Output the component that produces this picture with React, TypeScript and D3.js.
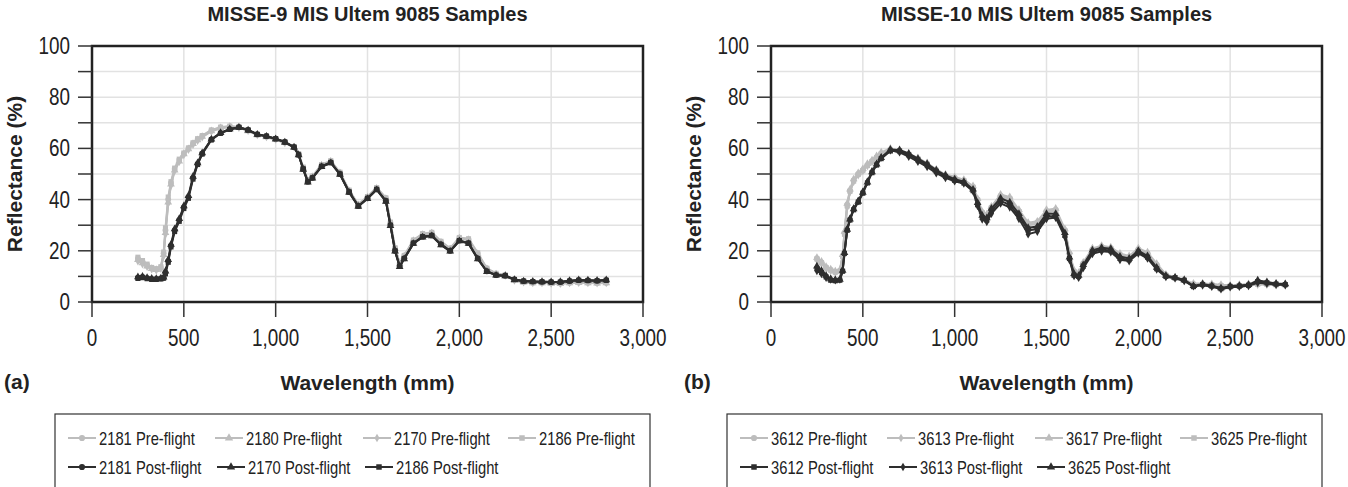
import React, { useRef, useEffect } from "react";
import * as d3 from "d3";

// wavelength grid (nm) shared by every series
const wavelengths = [
  250, 275, 300, 325, 350, 375, 390, 400, 415, 430,
  450, 475, 500, 525, 550, 575, 600, 650, 700, 750,
  800, 850, 900, 950, 1000, 1050, 1100, 1125, 1150, 1175,
  1200, 1250, 1300, 1350, 1400, 1450, 1500, 1550, 1600, 1625,
  1650, 1675, 1700, 1750, 1800, 1850, 1900, 1950, 2000, 2050,
  2100, 2150, 2200, 2250, 2300, 2350, 2400, 2450, 2500, 2550,
  2600, 2650, 2700, 2750, 2800,
];

// MISSE-9 samples
const m9Pre2181 = [
  17, 15.8, 14.5, 13.2, 12.8, 13.5, 19, 28, 40, 46.5,
  52, 55.5, 58, 60, 62, 63.5, 64.8, 67, 68.2, 68.6,
  68.3, 67, 65.3, 64.6, 63.6, 62.3, 60.6, 57.8, 52.5, 47.5,
  49, 53.5, 55, 50.5, 43.5, 38, 41, 44.5, 40.5, 31,
  21, 15, 18, 24, 26.5, 27, 23.5, 20.8, 25, 24.5,
  19, 13, 11, 10.5, 8.5, 7.8, 7.5, 7.5, 7.3, 7.2,
  7.5, 7.6, 7.5, 7.4, 7.5,
];
const m9Pre2180 = [
  16.5, 15.2, 14, 13, 12.6, 13.2, 18.5, 27, 39, 46,
  51.5, 55, 57.8, 59.8, 61.8, 63.3, 64.6, 66.8, 68, 68.5,
  68.2, 66.8, 65.2, 64.4, 63.4, 62.2, 60.4, 57.5, 52.2, 47.3,
  48.8, 53.3, 54.8, 50.3, 43.2, 37.8, 40.8, 44.2, 40.2, 30.8,
  20.8, 14.8, 17.8, 23.8, 26.2, 26.8, 23.2, 20.6, 24.8, 24.2,
  18.7, 12.8, 10.8, 10.3, 8.3, 7.7, 7.4, 7.4, 7.2, 7.1,
  7.4, 7.5, 7.4, 7.3, 7.4,
];
const m9Pre2170 = [
  16, 14.8, 13.8, 12.8, 12.4, 13, 18, 26.5, 38.5, 45.5,
  51.2, 54.8, 57.5, 59.5, 61.5, 63, 64.4, 66.6, 67.9, 68.4,
  68.1, 66.9, 65.3, 64.5, 63.5, 62.2, 60.5, 57.6, 52.3, 47.4,
  48.9, 53.4, 54.9, 50.4, 43.3, 37.9, 40.9, 44.3, 40.3, 30.9,
  20.9, 14.9, 17.9, 23.9, 26.3, 26.9, 23.3, 20.7, 24.9, 24.3,
  18.8, 12.9, 10.9, 10.4, 8.4, 7.8, 7.5, 7.5, 7.3, 7.2,
  7.5, 7.6, 7.5, 7.4, 7.5,
];
const m9Pre2186 = [
  17.5, 16.2, 14.8, 13.5, 13, 13.8, 19.5, 29, 41, 47,
  52.3, 55.8, 58.2, 60.2, 62.2, 63.8, 65, 67.2, 68.3, 68.7,
  68.4, 67.1, 65.4, 64.7, 63.7, 62.4, 60.7, 58, 52.7, 47.7,
  49.2, 53.7, 55.2, 50.7, 43.7, 38.2, 41.2, 44.7, 40.7, 31.2,
  21.2, 15.2, 18.2, 24.2, 26.7, 27.2, 23.7, 21, 25.2, 24.7,
  19.2, 13.2, 11.2, 10.6, 8.6, 7.9, 7.6, 7.6, 7.4, 7.3,
  7.6, 7.7, 7.6, 7.5, 7.6,
];
const m9Post2181 = [
  9.5, 9.8, 9.3, 9, 9, 9.2, 9.5, 11.5, 16, 22,
  28, 32, 37, 41, 48.5, 54, 58, 63.5, 66, 67.5,
  68.3, 67.2, 65.5, 64.8, 63.8, 62.5, 60.5, 57.5, 52, 47,
  48.5, 53, 54.5, 50, 43, 37.5, 40.5, 44, 39.5, 30,
  20, 14, 17, 23, 25.5, 26, 22.5, 20, 24, 23,
  17, 12, 10.5, 10.3, 8.8, 8.2, 8, 7.9, 7.8, 7.8,
  8.2, 8.5, 8.4, 8.3, 8.5,
];
const m9Post2170 = [
  9.8, 10, 9.5, 9.2, 9.1, 9.3, 9.7, 12, 16.5, 22.5,
  28.5, 32.5, 37.5, 41.5, 49, 54.3, 58.2, 63.6, 66.1, 67.6,
  68.2, 67.1, 65.4, 64.7, 63.7, 62.4, 60.4, 57.4, 51.8, 46.8,
  48.3, 52.8, 54.3, 49.8, 42.8, 37.3, 40.3, 43.8, 39.3, 29.8,
  19.8, 13.8, 16.8, 22.8, 25.3, 25.8, 22.3, 19.8, 23.8, 22.8,
  16.8, 11.8, 10.4, 10.2, 8.7, 8.1, 8, 7.9, 7.8, 7.9,
  8.3, 8.6, 8.5, 8.4, 8.6,
];
const m9Post2186 = [
  9.2, 9.5, 9.1, 8.8, 8.8, 9, 9.3, 11, 15.5, 21.5,
  27.5, 31.5, 36.5, 40.5, 48, 53.7, 57.8, 63.3, 65.9, 67.4,
  68.2, 67.2, 65.5, 64.8, 63.8, 62.5, 60.5, 57.5, 52, 47,
  48.5, 53, 54.5, 50, 43, 37.5, 40.5, 44, 39.5, 30,
  20, 14, 17, 23, 25.5, 26, 22.5, 20, 24, 23,
  17, 12, 10.5, 10.3, 8.8, 8.2, 8, 7.9, 7.8, 7.8,
  8.2, 8.5, 8.4, 8.3, 8.5,
];

// MISSE-10 samples
const m10Pre3612 = [
  17, 15.5, 13.5, 12.5, 11.8, 12.2, 18, 27, 38, 43.5,
  47.5, 50, 51.5, 53.5, 55, 56.5, 58, 59.5, 58.8, 57.5,
  56, 54, 51.5, 49.5, 48.5, 47.5, 45, 40, 35, 34,
  37, 41.5, 40.5, 35.5, 30.5, 31, 35.5, 36, 28, 19,
  12, 11, 15, 20.5, 21.5, 21, 18.5, 17.5, 20.5, 19,
  14.5, 10.5, 9.5, 8.5, 7, 7, 6.8, 6.5, 6.3, 6.5,
  6.8, 7, 7, 6.8, 6.8,
];
const m10Pre3613 = [
  16.5, 15, 13.2, 12.2, 11.5, 12, 17.5, 26, 37, 43,
  47, 49.6, 51.2, 53.2, 54.7, 56.3, 57.8, 59.3, 58.6, 57.2,
  55.7, 53.7, 51.2, 49.2, 48.2, 47.2, 44.6, 39.6, 34.6, 33.6,
  36.6, 41, 40, 35, 30, 30.5, 35, 35.5, 27.5, 18.5,
  11.6, 10.6, 14.6, 20, 21, 20.6, 18, 17.2, 20, 18.6,
  14, 10.2, 9.3, 8.3, 6.8, 6.8, 6.6, 6.3, 6.1, 6.3,
  6.6, 6.8, 6.8, 6.6, 6.6,
];
const m10Pre3617 = [
  17.3, 15.8, 13.8, 12.8, 12, 12.5, 18.5, 27.5, 38.5, 44,
  48, 50.4, 52, 54, 55.4, 57, 58.5, 60, 59, 57.8,
  56.3, 54.3, 51.8, 49.8, 48.8, 47.8, 45.3, 40.3, 35.3, 34.3,
  37.3, 42, 41, 36, 31, 31.5, 36, 36.5, 28.5, 19.5,
  12.4, 11.4, 15.4, 21, 22, 21.4, 19, 18, 21, 19.4,
  15, 10.8, 9.7, 8.7, 7.2, 7.2, 7, 6.7, 6.5, 6.7,
  7, 7.2, 7.2, 7, 7,
];
const m10Pre3625 = [
  16.8, 15.3, 13.4, 12.4, 11.6, 12.1, 17.8, 26.5, 37.5, 43.2,
  47.2, 49.8, 51.3, 53.3, 54.8, 56.4, 57.9, 59.4, 58.7, 57.4,
  55.9, 53.9, 51.4, 49.4, 48.4, 47.4, 44.8, 39.8, 34.8, 33.8,
  36.8, 41.3, 40.3, 35.3, 30.3, 30.8, 35.3, 35.8, 27.8, 18.8,
  11.8, 10.8, 14.8, 20.3, 21.3, 20.8, 18.3, 17.3, 20.3, 18.8,
  14.3, 10.4, 9.4, 8.4, 6.9, 6.9, 6.7, 6.4, 6.2, 6.4,
  6.7, 6.9, 6.9, 6.7, 6.7,
];
const m10Post3612 = [
  13, 11.5, 9.8, 8.5, 8.3, 8.5, 12, 19, 28, 32,
  36, 39, 42.5, 46.5, 50.5, 53.5, 56, 59, 59, 57.5,
  55.5, 53.5, 51, 49, 47.5, 46.5, 43.5, 38, 33, 32,
  35.5, 39.5, 38, 33.5, 28, 28.5, 33.5, 33.5, 26, 17,
  10.5, 10, 14, 19.5, 20.5, 20, 17, 16.5, 19.5, 17.5,
  13, 10, 9.5, 8.5, 6, 6.8, 6.2, 5.2, 6, 6.2,
  6.5, 8, 7.5, 7, 6.8,
];
const m10Post3613 = [
  12.2, 11, 9.5, 8.8, 8.5, 8.8, 12.5, 19.5, 28.5, 32.5,
  36.5, 39.5, 43, 47, 51, 54, 56.5, 59.3, 58.5, 56.8,
  54.8, 52.8, 50.3, 48.5, 47.2, 46.3, 43.3, 37.5, 32.3, 31.3,
  34.5, 38.5, 37, 32.5, 26.5, 27.5, 32.5, 33, 25.5, 16.5,
  10.2, 9.5, 13.3, 18.8, 19.8, 19.5, 16.5, 16, 19, 17,
  12.7, 9.8, 9.3, 8.2, 6.2, 6.5, 6, 5, 5.8, 6,
  6.3, 7.5, 7.2, 6.8, 6.6,
];
const m10Post3625 = [
  14, 12.2, 10.3, 9, 8.6, 8.8, 12.3, 19.2, 28.3, 32.3,
  36.3, 39.3, 42.8, 46.8, 50.8, 53.8, 56.3, 59.6, 59.4, 58,
  56, 54, 51.5, 49.5, 48, 47, 44, 38.8, 33.8, 32.8,
  36.5, 40.5, 39, 34.5, 29, 29.5, 34.5, 34.5, 27, 17.5,
  11, 10.3, 14.5, 20.2, 21.2, 20.8, 17.8, 17, 20, 18,
  13.5, 10.3, 9.6, 8.6, 6.3, 7, 6.4, 5.5, 6.2, 6.4,
  6.7, 8.5, 7.8, 7.2, 7,
];

const xTicks = [0, 500, 1000, 1500, 2000, 2500, 3000];
const yTicks = [0, 20, 40, 60, 80, 100];
const yMinor = [10, 30, 50, 70, 90];

const PRE = "#bdbdbd";
const POST = "#2e2e2e";
const FONT = "'Liberation Sans', Arial, sans-serif";
const NARROW = 0.82; // horizontal squeeze to mimic Arial Narrow

const shapes = {
  circle: d3.symbolCircle,
  triangle: d3.symbolTriangle,
  diamond: d3.symbolDiamond,
  square: d3.symbolSquare,
};

const panels = [
  {
    title: "MISSE-9 MIS Ultem 9085 Samples",
    tag: "(a)",
    left: 92,
    tagX: 4,
    legendLeft: 55,
    series: [
      { label: "2181 Pre-flight", values: m9Pre2181, color: PRE, shape: "circle" },
      { label: "2180 Pre-flight", values: m9Pre2180, color: PRE, shape: "triangle" },
      { label: "2170 Pre-flight", values: m9Pre2170, color: PRE, shape: "diamond" },
      { label: "2186 Pre-flight", values: m9Pre2186, color: PRE, shape: "square" },
      { label: "2181 Post-flight", values: m9Post2181, color: POST, shape: "circle" },
      { label: "2170 Post-flight", values: m9Post2170, color: POST, shape: "triangle" },
      { label: "2186 Post-flight", values: m9Post2186, color: POST, shape: "square" },
    ],
  },
  {
    title: "MISSE-10 MIS Ultem 9085 Samples",
    tag: "(b)",
    left: 771,
    tagX: 684,
    legendLeft: 727,
    series: [
      { label: "3612 Pre-flight", values: m10Pre3612, color: PRE, shape: "circle" },
      { label: "3613 Pre-flight", values: m10Pre3613, color: PRE, shape: "diamond" },
      { label: "3617 Pre-flight", values: m10Pre3617, color: PRE, shape: "triangle" },
      { label: "3625 Pre-flight", values: m10Pre3625, color: PRE, shape: "square" },
      { label: "3612 Post-flight", values: m10Post3612, color: POST, shape: "square" },
      { label: "3613 Post-flight", values: m10Post3613, color: POST, shape: "diamond" },
      { label: "3625 Post-flight", values: m10Post3625, color: POST, shape: "triangle" },
    ],
  },
];

const PLOT_W = 551;
const TOP = 46;
const BOTTOM = 302;
const LEGEND_W = 595;
const legendCols = [[13, 160, 308, 453], [13, 162, 310]];

// squeezed text placed via transform
const narrowText = (sel, x, y, size, anchor, txt) =>
  sel
    .append("text")
    .attr("transform", `translate(${x},${y}) scale(${NARROW},1)`)
    .attr("text-anchor", anchor)
    .attr("font-size", size)
    .attr("fill", "#222")
    .text(txt);

const Panel = ({ panel }) => {
  const gRef = useRef();

  useEffect(() => {
    const g = d3.select(gRef.current);
    g.selectAll("*").remove();

    const x = d3.scaleLinear().domain([0, 3000]).range([panel.left, panel.left + PLOT_W]);
    const y = d3.scaleLinear().domain([0, 100]).range([BOTTOM, TOP]);
    const midX = panel.left + PLOT_W / 2;

    // gridlines
    g.append("g")
      .selectAll("line")
      .data(d3.range(10, 100, 10))
      .join("line")
      .attr("x1", x(0))
      .attr("x2", x(3000))
      .attr("y1", (d) => y(d))
      .attr("y2", (d) => y(d))
      .attr("stroke", "#e2e2e2")
      .attr("stroke-width", 1.5);
    g.append("g")
      .selectAll("line")
      .data(xTicks.slice(1, -1))
      .join("line")
      .attr("x1", (d) => x(d))
      .attr("x2", (d) => x(d))
      .attr("y1", y(0))
      .attr("y2", y(100))
      .attr("stroke", "#e2e2e2")
      .attr("stroke-width", 1.5);

    // series
    const line = d3
      .line()
      .x((d) => x(d[0]))
      .y((d) => y(d[1]));

    panel.series.forEach((s) => {
      const pts = wavelengths.map((w, i) => [w, s.values[i]]);
      const sg = g.append("g");
      sg.append("path")
        .datum(pts)
        .attr("fill", "none")
        .attr("stroke", s.color)
        .attr("stroke-width", 2)
        .attr("d", line);
      const sym = d3.symbol().type(shapes[s.shape]).size(s.shape === "diamond" ? 22 : 26);
      sg.selectAll("path.m")
        .data(pts)
        .join("path")
        .attr("class", "m")
        .attr("transform", (d) => `translate(${x(d[0])},${y(d[1])})`)
        .attr("d", sym())
        .attr("fill", s.color);
    });

    // frame
    g.append("rect")
      .attr("x", x(0))
      .attr("y", y(100))
      .attr("width", PLOT_W)
      .attr("height", BOTTOM - TOP)
      .attr("fill", "none")
      .attr("stroke", "#222")
      .attr("stroke-width", 2.5);

    // y ticks
    g.append("g")
      .selectAll("line")
      .data([...yTicks, ...yMinor])
      .join("line")
      .attr("x1", x(0) - 14)
      .attr("x2", x(0))
      .attr("y1", (d) => y(d))
      .attr("y2", (d) => y(d))
      .attr("stroke", "#333")
      .attr("stroke-width", 1.5);
    const yl = g.append("g");
    yTicks.forEach((t) => narrowText(yl, x(0) - 22, y(t) + 8, 23, "end", t));

    // x ticks
    g.append("g")
      .selectAll("line")
      .data(xTicks)
      .join("line")
      .attr("x1", (d) => x(d))
      .attr("x2", (d) => x(d))
      .attr("y1", y(0))
      .attr("y2", y(0) + 15)
      .attr("stroke", "#333")
      .attr("stroke-width", 1.5);
    const xl = g.append("g");
    xTicks.forEach((t) => narrowText(xl, x(t), 346, 23, "middle", d3.format(",")(t)));

    // titles
    g.append("text")
      .attr("x", midX)
      .attr("y", 21)
      .attr("text-anchor", "middle")
      .attr("font-size", 20)
      .attr("font-weight", "bold")
      .attr("fill", "#222")
      .text(panel.title);
    g.append("text")
      .attr("x", midX)
      .attr("y", 390)
      .attr("text-anchor", "middle")
      .attr("font-size", 21)
      .attr("font-weight", "bold")
      .attr("fill", "#222")
      .text("Wavelength (mm)");
    g.append("text")
      .attr("x", panel.tagX)
      .attr("y", 389)
      .attr("font-size", 21)
      .attr("font-weight", "bold")
      .attr("fill", "#222")
      .text(panel.tag);
    g.append("text")
      .attr("transform", `translate(${panel.left - 70},${(TOP + BOTTOM) / 2}) rotate(-90)`)
      .attr("text-anchor", "middle")
      .attr("font-size", 21)
      .attr("font-weight", "bold")
      .attr("fill", "#222")
      .text("Reflectance (%)");

    // legend
    const lg = g.append("g");
    lg.append("rect")
      .attr("x", panel.legendLeft)
      .attr("y", 414)
      .attr("width", LEGEND_W)
      .attr("height", 100)
      .attr("fill", "#fff")
      .attr("stroke", "#333")
      .attr("stroke-width", 1.2);
    panel.series.forEach((s, i) => {
      const row = i < 4 ? 0 : 1;
      const col = i < 4 ? i : i - 4;
      const lx = panel.legendLeft + legendCols[row][col];
      const ly = row === 0 ? 438 : 467;
      lg.append("line")
        .attr("x1", lx)
        .attr("x2", lx + 28)
        .attr("y1", ly)
        .attr("y2", ly)
        .attr("stroke", s.color)
        .attr("stroke-width", 2);
      lg.append("path")
        .attr("transform", `translate(${lx + 14},${ly})`)
        .attr("d", d3.symbol().type(shapes[s.shape]).size(s.shape === "diamond" ? 22 : 30)())
        .attr("fill", s.color);
      narrowText(lg, lx + 31, ly + 6.5, 18, "start", s.label);
    });
  }, [panel]);

  return <g ref={gRef} />;
};

export default function App() {
  return (
    <svg
      width={1348}
      height={487}
      style={{ position: "absolute", left: 0, top: 0, fontFamily: FONT, background: "#fff" }}
    >
      {panels.map((p) => (
        <Panel key={p.tag} panel={p} />
      ))}
    </svg>
  );
}
